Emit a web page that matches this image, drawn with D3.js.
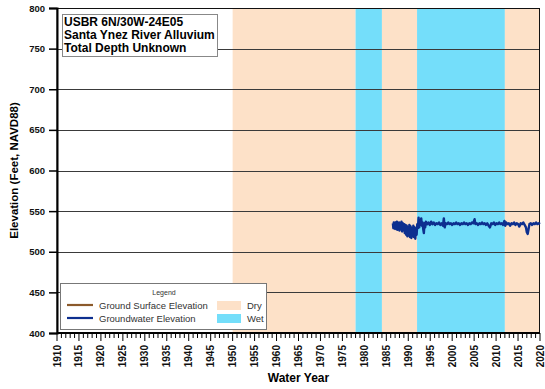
<!DOCTYPE html>
<html>
<head>
<meta charset="utf-8">
<script src="https://cdn.jsdelivr.net/npm/d3@7"></script>
<style>
	body { margin: 0; background: #fff; }
	svg { display: block; font-family: "Liberation Sans", Arial, sans-serif; }
</style>
</head>
<body>
<div class="c-svg"></div>
<script>
//DATA
//-------------------------------------------------------------------------

const titleLines = ["USBR 6N/30W-24E05", "Santa Ynez River Alluvium", "Total Depth Unknown"];

//climate periods
const periodStart = [1950, 1978, 1984, 1992, 2012];
const periodEnd = [1978, 1984, 1992, 2012, 2020];
const periodType = ["Dry", "Wet", "Dry", "Wet", "Dry"];

//groundwater elevation readings (water year, feet)
const gwYear = [
	1986.5, 1986.6, 1986.7, 1986.8, 1986.9, 1987.0, 1987.1, 1987.25, 1987.4, 1987.5,
	1987.6, 1987.75, 1987.9, 1988.0, 1988.15, 1988.3, 1988.45, 1988.6, 1988.75, 1988.9,
	1989.05, 1989.2, 1989.35, 1989.5, 1989.65, 1989.8, 1989.95, 1990.1, 1990.25, 1990.4,
	1990.55, 1990.7, 1990.85, 1991.0, 1991.15, 1991.3, 1991.45, 1991.6, 1991.75, 1991.9,
	1992.05, 1992.2, 1992.35, 1992.5, 1992.65, 1992.8, 1992.95, 1993.1, 1993.25, 1993.4,
	1993.55, 1993.7, 1993.85, 1994.0, 1994.3, 1994.6, 1994.9, 1995.2, 1995.5, 1995.8,
	1996.1, 1996.4, 1996.7, 1997.0, 1997.3, 1997.6, 1997.9, 1998.1, 1998.3, 1998.5,
	1998.8, 1999.1, 1999.4, 1999.7, 2000.0, 2000.3, 2000.6, 2000.9, 2001.2, 2001.5,
	2001.8, 2002.1, 2002.4, 2002.7, 2003.0, 2003.3, 2003.6, 2003.9, 2004.2, 2004.5,
	2004.8, 2005.1, 2005.3, 2005.6, 2005.9, 2006.2, 2006.5, 2006.8, 2007.1, 2007.4,
	2007.7, 2008.0, 2008.3, 2008.6, 2008.9, 2009.2, 2009.5, 2009.8, 2010.1, 2010.4,
	2010.7, 2011.0, 2011.3, 2011.6, 2011.9, 2012.1, 2012.3, 2012.6, 2012.9, 2013.2,
	2013.5, 2013.8, 2014.1, 2014.4, 2014.7, 2015.0, 2015.3, 2015.6, 2015.9, 2016.2,
	2016.5, 2016.8, 2017.0, 2017.2, 2017.4, 2017.6, 2017.9, 2018.2, 2018.5, 2018.8,
	2019.1, 2019.4, 2019.7, 2020.0
];
const gwElev = [
	535, 529, 536, 530, 535, 528, 536, 531, 537, 527,
	535, 529, 536, 526, 534, 528, 537, 525, 535, 527,
	534, 523, 533, 521, 532, 519, 530, 520, 533, 518,
	531, 517, 529, 519, 532, 518, 530, 516, 528, 521,
	534, 529, 542, 530, 538, 533, 541, 532, 536, 528,
	523, 535, 530, 537, 534, 536, 533, 537, 534, 536,
	533, 535, 534, 536, 533, 535, 532, 541, 530, 535,
	534, 536, 534, 535, 533, 535, 534, 536, 534, 535,
	533, 535, 534, 536, 534, 535, 533, 535, 534, 536,
	535, 540, 534, 535, 533, 535, 534, 536, 534, 535,
	533, 535, 532, 530, 535, 534, 536, 533, 535, 534,
	536, 534, 535, 533, 538, 532, 536, 534, 535, 532,
	535, 534, 536, 533, 535, 534, 531, 535, 534, 536,
	533, 530, 524, 522, 528, 534, 535, 533, 535, 534,
	536, 534, 535, 534
];

const yTicks = [400, 450, 500, 550, 600, 650, 700, 750, 800];
const legendLines = [
	{ label: "Ground Surface Elevation", color: "#8b5a2b" },
	{ label: "Groundwater Elevation", color: "#0d2f8f" }
];
const legendFills = ["Dry", "Wet"];


//INITIALISATION
//-------------------------------------------------------------------------

const opts = {
	width: 545,
	height: 389,
	margin: { top: 8, right: 5, bottom: 56, left: 57 }
};
const innerChart = {
	width: opts.width - opts.margin.left - opts.margin.right,
	height: opts.height - opts.margin.top - opts.margin.bottom
};
const colors = { Dry: "#fde1c8", Wet: "#74defa" };

const svg = d3.select(".c-svg")
	.append("svg")
	.attr("width", opts.width)
	.attr("height", opts.height);

const g = svg.append("g")
	.attr("transform", `translate(${opts.margin.left} ${opts.margin.top})`);

const x = d3.scaleLinear().domain([1910, 2020]).range([0, innerChart.width]);
const y = d3.scaleLinear().domain([400, 800]).range([innerChart.height, 0]);


//BACKGROUND PERIODS
//-------------------------------------------------------------------------

g.append("g").selectAll("rect")
	.data(periodStart.map((s, i) => ({ s: s, e: periodEnd[i], t: periodType[i] })))
	.join("rect")
	.attr("x", d => x(d.s))
	.attr("width", d => x(d.e) - x(d.s))
	.attr("y", 0)
	.attr("height", innerChart.height)
	.style("fill", d => colors[d.t]);

//gridlines
g.append("g").selectAll("line")
	.data(yTicks.filter(d => d > 400 && d < 800))
	.join("line")
	.attr("x1", 0)
	.attr("x2", innerChart.width)
	.attr("y1", d => Math.round(y(d)) + 0.5)
	.attr("y2", d => Math.round(y(d)) + 0.5)
	.style("stroke", "#3a3a3a")
	.style("stroke-width", 1);

//frame
g.append("rect")
	.attr("x", 0).attr("y", 0.5)
	.attr("width", innerChart.width - 0.5)
	.attr("height", innerChart.height)
	.style("fill", "none")
	.style("stroke", "#111")
	.style("stroke-width", 1);


//GROUNDWATER LINE
//-------------------------------------------------------------------------

const line = d3.line()
	.x((d, i) => x(gwYear[i]))
	.y(d => y(d));

g.append("path")
	.datum(gwElev)
	.attr("d", line)
	.style("fill", "none")
	.style("stroke", legendLines[1].color)
	.style("stroke-width", 2.4)
	.style("stroke-linejoin", "round");


//AXES
//-------------------------------------------------------------------------

const yAxis = g.append("g")
	.call(d3.axisLeft(y).tickValues(yTicks).tickSize(8).tickPadding(4));
yAxis.select(".domain").style("stroke-width", 2).style("stroke", "#000");
yAxis.selectAll(".tick line").style("stroke-width", 1.5);
yAxis.selectAll("text")
	.style("font-size", "9.5px")
	.style("font-weight", "bold")
	.style("fill", "#111");

const years = d3.range(1910, 2021);
const xAxis = g.append("g")
	.attr("transform", `translate(0 ${innerChart.height})`);
xAxis.append("line")
	.attr("x1", 0).attr("x2", innerChart.width)
	.attr("y1", 0).attr("y2", 0)
	.style("stroke", "#000").style("stroke-width", 2);
xAxis.selectAll(".minor")
	.data(years)
	.join("line")
	.attr("x1", d => x(d)).attr("x2", d => x(d))
	.attr("y1", 0)
	.attr("y2", d => d % 5 == 0 ? 8 : 5)
	.style("stroke", "#000")
	.style("stroke-width", 1);
xAxis.selectAll(".lbl")
	.data(years.filter(d => d % 5 == 0))
	.join("text")
	.attr("transform", d => `translate(${x(d) + 3.5} 12) rotate(-90)`)
	.attr("text-anchor", "end")
	.style("font-size", "10px")
	.style("font-weight", "bold")
	.style("fill", "#111")
	.text(d => d);

svg.append("text")
	.attr("x", opts.margin.left + innerChart.width / 2)
	.attr("y", 382)
	.attr("text-anchor", "middle")
	.style("font-size", "12px")
	.style("font-weight", "bold")
	.text("Water Year");

svg.append("text")
	.attr("transform", `translate(18 ${opts.margin.top + innerChart.height / 2}) rotate(-90)`)
	.attr("text-anchor", "middle")
	.style("font-size", "11.5px")
	.style("font-weight", "bold")
	.text("Elevation (Feet, NAVD88)");


//TITLE BOX
//-------------------------------------------------------------------------

svg.append("rect")
	.attr("x", 62.5).attr("y", 14.5)
	.attr("width", 155).attr("height", 42)
	.style("fill", "#fff")
	.style("stroke", "#888");

svg.append("g").selectAll("text")
	.data(titleLines)
	.join("text")
	.attr("x", 64)
	.attr("y", (d, i) => 26 + i * 13)
	.style("font-size", "12px")
	.style("font-weight", "bold")
	.text(d => d);


//LEGEND
//-------------------------------------------------------------------------

const legend = svg.append("g");
legend.append("rect")
	.attr("x", 60.5).attr("y", 283.5)
	.attr("width", 206).attr("height", 46)
	.style("fill", "#fff")
	.style("stroke", "#777");
legend.append("text")
	.attr("x", 164).attr("y", 295)
	.attr("text-anchor", "middle")
	.style("font-size", "7px")
	.style("fill", "#333")
	.text("Legend");

legendLines.forEach((d, i) => {
	legend.append("line")
		.attr("x1", 67).attr("x2", 93)
		.attr("y1", 305 + i * 13).attr("y2", 305 + i * 13)
		.style("stroke", d.color)
		.style("stroke-width", 2.2);
	legend.append("text")
		.attr("x", 99).attr("y", 308.5 + i * 13)
		.style("font-size", "9.5px")
		.style("fill", "#333")
		.text(d.label);
});

legendFills.forEach((d, i) => {
	legend.append("rect")
		.attr("x", 217).attr("y", 301 + i * 13)
		.attr("width", 24).attr("height", 9)
		.style("fill", colors[d]);
	legend.append("text")
		.attr("x", 247).attr("y", 308.5 + i * 13)
		.style("font-size", "9.5px")
		.style("fill", "#333")
		.text(d);
});
</script>
</body>
</html>
